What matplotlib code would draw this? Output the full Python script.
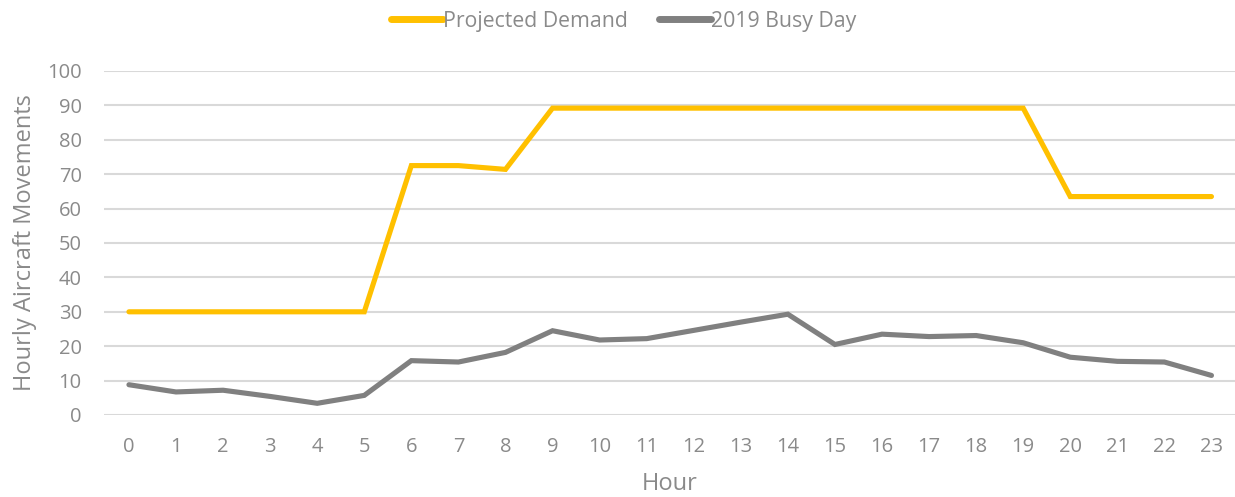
import numpy as np
import matplotlib.pyplot as plt

plt.rcParams['font.family'] = ['Open Sans', 'DejaVu Sans']

hours = np.arange(24)
projected = [30, 30, 30, 30, 30, 30, 72.5, 72.5, 71.4, 89.2, 89.2, 89.2,
             89.2, 89.2, 89.2, 89.2, 89.2, 89.2, 89.2, 89.2, 63.5, 63.5, 63.5, 63.5]
busy_2019 = [8.8, 6.7, 7.2, 5.4, 3.4, 5.7, 15.8, 15.4, 18.2, 24.5, 21.8, 22.2,
             24.6, 27.0, 29.3, 20.5, 23.5, 22.8, 23.1, 21.0, 16.8, 15.6, 15.4, 11.5]

text_col = '#8a8a8a'

fig = plt.figure(figsize=(12.35, 4.97), dpi=100)
ax = fig.add_axes([104 / 1235, 82 / 497, 1131 / 1235, 344 / 497])

ax.plot(hours, projected, color='#FFC000', lw=3.7, label='Projected Demand',
        solid_capstyle='round', solid_joinstyle='miter')
ax.plot(hours, busy_2019, color='#808080', lw=3.7, label='2019 Busy Day',
        solid_capstyle='round', solid_joinstyle='miter')

ax.set_xlim(-0.53, 23.5)
ax.set_ylim(0, 100)
ax.set_yticks(np.arange(0, 101, 10))
ax.set_xticks(hours)
ax.grid(axis='y', color='#d9d9d9', lw=1.5)
ax.set_axisbelow(True)
for s in ax.spines.values():
    s.set_visible(False)
ax.tick_params(length=0, labelsize=14.5, colors=text_col)
ax.tick_params(axis='y', pad=16)
ax.tick_params(axis='x', pad=16)

ax.set_xlabel('Hour', fontsize=17, color=text_col, labelpad=11)
ax.set_ylabel('Hourly Aircraft Movements', fontsize=17, color=text_col, labelpad=7)

leg = fig.legend(loc='center', bbox_to_anchor=(0.505, 1 - 21 / 497), ncol=2,
                 frameon=False, fontsize=15.3, handlelength=2.45, handletextpad=0.0,
                 columnspacing=1.5)
for t in leg.get_texts():
    t.set_color(text_col)
for h in leg.get_lines():
    h.set_linewidth(5)

fig.savefig('out.png', dpi=100)
